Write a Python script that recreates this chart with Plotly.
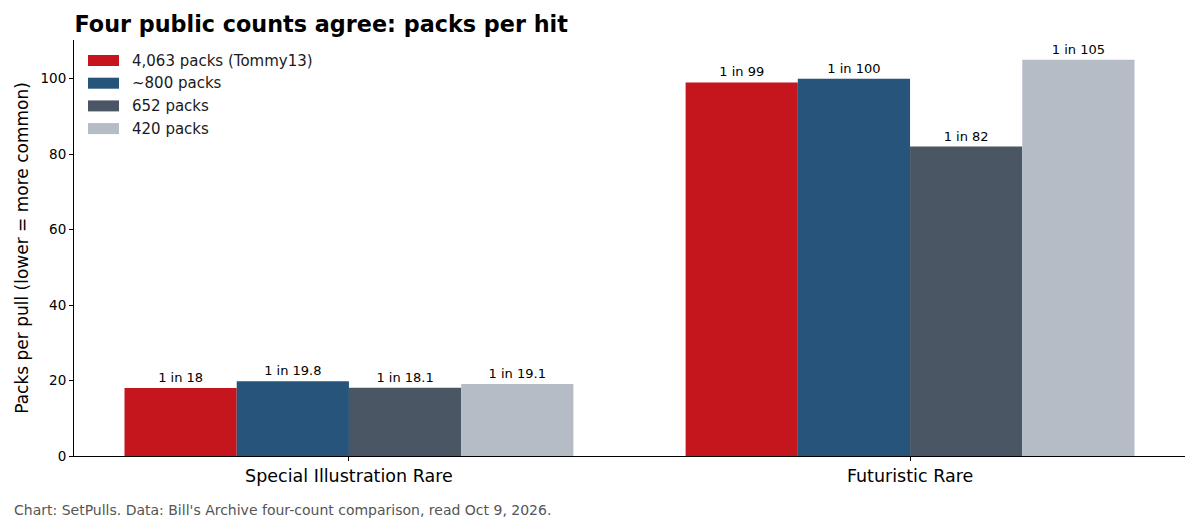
import plotly.graph_objects as go

categories = ["Special Illustration Rare", "Futuristic Rare"]
series_names = ["4,063 packs (Tommy13)", "~800 packs", "652 packs", "420 packs"]
values_tommy = [18, 99]
values_800 = [19.8, 100]
values_652 = [18.1, 82]
values_420 = [19.1, 105]
labels_tommy = ["1 in 18", "1 in 99"]
labels_800 = ["1 in 19.8", "1 in 100"]
labels_652 = ["1 in 18.1", "1 in 82"]
labels_420 = ["1 in 19.1", "1 in 105"]
y_ticks = [0, 20, 40, 60, 80, 100]

colors = ["#C4161C", "#26547A", "#4A5663", "#B5BCC6"]
all_vals = [values_tommy, values_800, values_652, values_420]
all_labels = [labels_tommy, labels_800, labels_652, labels_420]

FONT = "DejaVu Sans"
W, H = 1200, 520
L, R, T, B = 74, 15, 40, 64
PW, PH = W - L - R, H - T - B


def px_x(x):
    return (x - L) / PW


def px_y(y):
    return (H - B - y) / PH


fig = go.Figure()
for name, vals, labs, col in zip(series_names, all_vals, all_labels, colors):
    fig.add_trace(go.Bar(
        x=categories, y=vals, name=name, marker=dict(color=col, line=dict(width=0)),
        text=labs, textposition="outside", textfont=dict(size=13, color="black", family=FONT),
        cliponaxis=False, showlegend=False,
    ))

shapes = []
annotations = []
row_y = [60.5, 83.2, 105.9, 128.6]
for name, col, ry in zip(series_names, colors, row_y):
    shapes.append(dict(type="rect", xref="paper", yref="paper",
                       x0=px_x(88), x1=px_x(119), y0=px_y(ry - 5.5), y1=px_y(ry + 5.5),
                       fillcolor=col, line=dict(width=0)))
    annotations.append(dict(text=name, xref="paper", yref="paper", x=px_x(130), y=px_y(ry),
                            xanchor="left", yanchor="middle", showarrow=False,
                            font=dict(size=15, color="#1a1a1a", family=FONT)))

annotations.append(dict(text="Chart: SetPulls. Data: Bill's Archive four-count comparison, read Oct 9, 2026.",
                        xref="paper", yref="paper", x=px_x(12), y=px_y(510), xanchor="left", yanchor="middle",
                        showarrow=False, font=dict(size=14, color="#555555", family=FONT)))

fig.update_layout(
    width=W, height=H,
    margin=dict(l=L, r=R, t=T, b=B),
    paper_bgcolor="white", plot_bgcolor="white",
    font=dict(family=FONT, color="black"),
    barmode="group", bargap=0.2, bargroupgap=0,
    showlegend=False,
    title=dict(text="<b>Four public counts agree: packs per hit</b>", x=(L + 0.5) / W, xanchor="left",
               y=1 - 24 / H, yanchor="middle", font=dict(size=22.3, family=FONT)),
    shapes=shapes,
    annotations=annotations,
)
fig.update_xaxes(range=[-0.49, 1.49], showline=True, linecolor="black", linewidth=1,
                 ticks="outside", ticklen=4, tickcolor="black", tickfont=dict(size=17.5),
                 showgrid=False, zeroline=False)
fig.update_yaxes(range=[0, 110.25], showline=True, linecolor="black", linewidth=1,
                 ticks="outside", ticklen=4, tickcolor="black", tickvals=y_ticks, tickfont=dict(size=13.5),
                 showgrid=False, zeroline=False,
                 title=dict(text="Packs per pull (lower = more common)", font=dict(size=17), standoff=7))
fig.write_html("out.html")
